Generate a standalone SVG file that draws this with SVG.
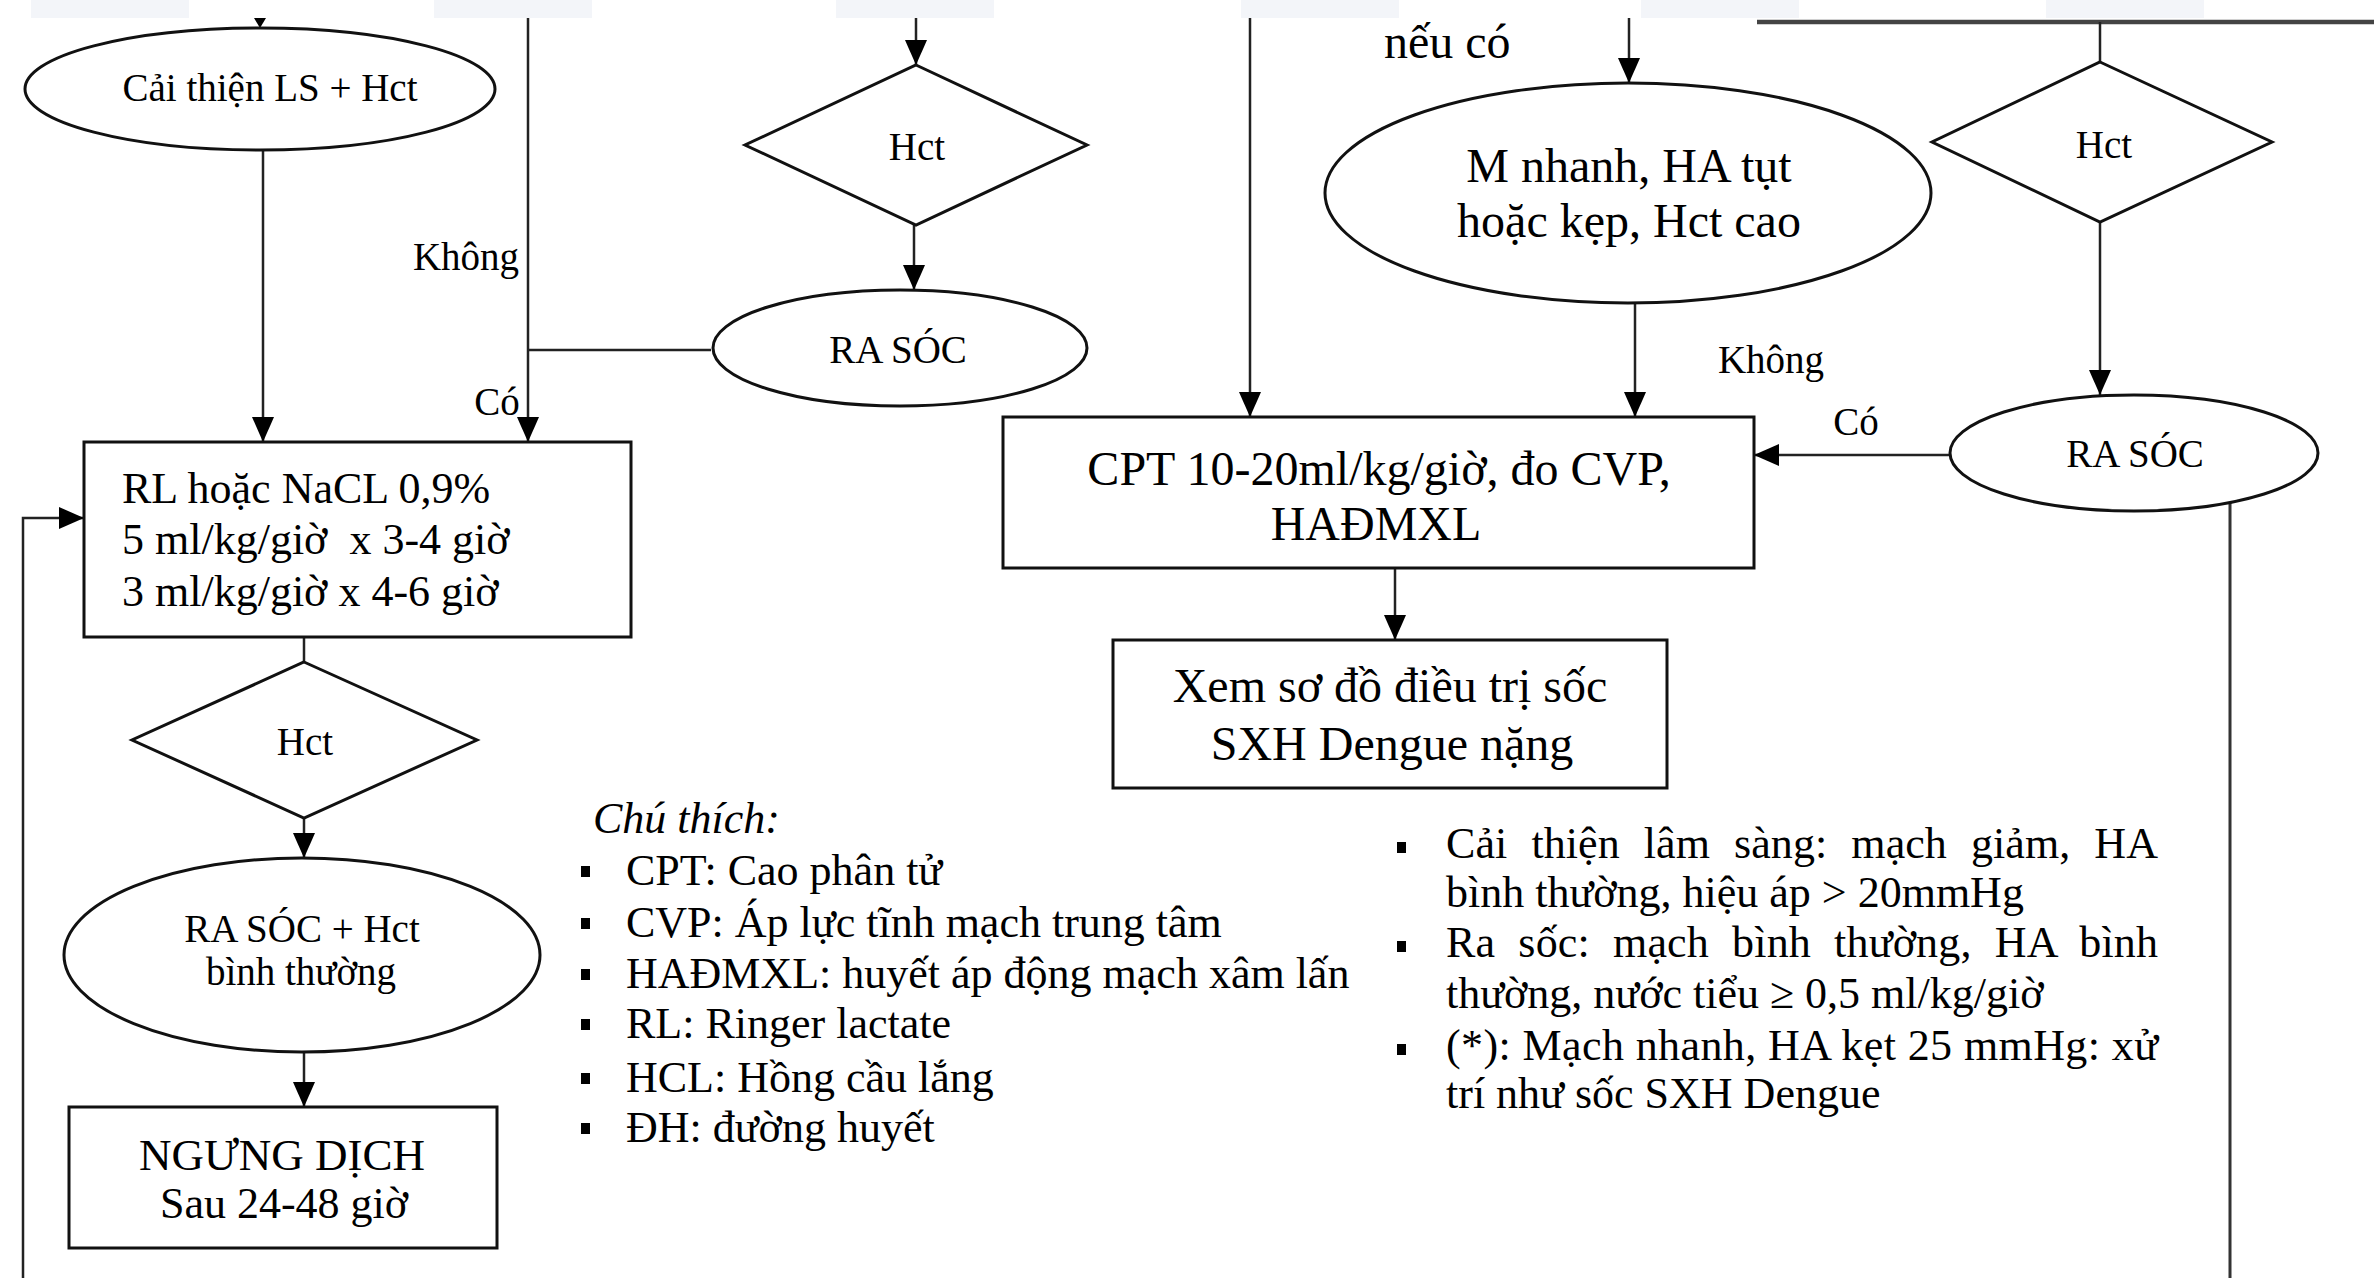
<svg xmlns="http://www.w3.org/2000/svg" width="2374" height="1278" viewBox="0 0 2374 1278">
<defs>
<marker id="ah" viewBox="0 0 25 22" refX="25" refY="11" markerWidth="25" markerHeight="22" markerUnits="userSpaceOnUse" orient="auto">
<path d="M0,0 L25,11 L0,22 Z" fill="#000"/>
</marker>
<style>
text{font-family:"Liberation Serif","Times New Roman",serif;fill:#000}
.shape{fill:#fff;stroke:#111;stroke-width:3}
.c{fill:none;stroke:#222;stroke-width:2.5}
.cl{font-size:39px;text-anchor:middle}
.big{font-size:48px;text-anchor:middle}
.body{font-size:44px}
.bul{fill:#000}
.faint{fill:#f3f5f9}
</style>
</defs>
<rect width="2374" height="1278" fill="#fff"/>
<g id="top-strip">
<rect class="faint" x="31" y="0" width="158" height="18"/>
<rect class="faint" x="434" y="0" width="158" height="18"/>
<rect class="faint" x="836" y="0" width="158" height="18"/>
<rect class="faint" x="1241" y="0" width="158" height="18"/>
<rect class="faint" x="1641" y="0" width="158" height="18"/>
<rect class="faint" x="2046" y="0" width="158" height="18"/>
</g>
<g id="connectors">
<polygon points="254,18 266,18 260,28" fill="#000"/>
<line class="c" x1="263" y1="150" x2="263" y2="442" marker-end="url(#ah)"/>
<line class="c" x1="528" y1="18" x2="528" y2="442" marker-end="url(#ah)"/>
<line class="c" x1="528" y1="350" x2="711" y2="350"/>
<line class="c" x1="916" y1="18" x2="916" y2="65" marker-end="url(#ah)"/>
<line class="c" x1="914" y1="225" x2="914" y2="290" marker-end="url(#ah)"/>
<line class="c" x1="1250" y1="18" x2="1250" y2="417" marker-end="url(#ah)"/>
<line class="c" x1="1629" y1="18" x2="1629" y2="83" marker-end="url(#ah)"/>
<line class="c" x1="1635" y1="302" x2="1635" y2="417" marker-end="url(#ah)"/>
<line class="c" x1="1395" y1="568" x2="1395" y2="640" marker-end="url(#ah)"/>
<line x1="1757" y1="22" x2="2374" y2="22" stroke="#444" stroke-width="4.5"/>
<line class="c" x1="2100" y1="22" x2="2100" y2="62"/>
<line class="c" x1="2100" y1="222" x2="2100" y2="395" marker-end="url(#ah)"/>
<line class="c" x1="1950" y1="455" x2="1754" y2="455" marker-end="url(#ah)"/>
<line x1="2230" y1="503" x2="2230" y2="1278" stroke="#333" stroke-width="3"/>
<line class="c" x1="304" y1="637" x2="304" y2="662"/>
<line class="c" x1="304" y1="818" x2="304" y2="858" marker-end="url(#ah)"/>
<line class="c" x1="304" y1="1052" x2="304" y2="1107" marker-end="url(#ah)"/>
<polyline class="c" points="23,1278 23,518 84,518" stroke="#333" stroke-width="3" marker-end="url(#ah)"/>
</g>
<g id="labels">
<text class="cl" x="466" y="270">Không</text>
<text class="cl" x="497" y="415">Có</text>
<text x="1384" y="58" style="font-size:48px">nếu có</text>
<text class="cl" x="1771" y="373">Không</text>
<text class="cl" x="1856" y="435">Có</text>
</g>
<g id="n-caithien">
<ellipse class="shape" cx="260" cy="89" rx="235" ry="61"/>
<text class="cl" x="270" y="101">Cải thiện LS + Hct</text>
</g>
<g id="n-hct-mid">
<polygon class="shape" points="916,65 1087,145 916,225 745,145"/>
<text class="cl" x="917" y="160">Hct</text>
</g>
<g id="n-rasoc-mid">
<ellipse class="shape" cx="900" cy="348" rx="187" ry="58"/>
<text class="cl" x="898" y="363">RA SÓC</text>
</g>
<g id="n-mnhanh">
<ellipse class="shape" cx="1628" cy="193" rx="303" ry="110"/>
<text class="big" x="1629" y="182">M nhanh, HA tụt</text>
<text class="big" x="1629" y="237">hoặc kẹp, Hct cao</text>
</g>
<g id="n-hct-right">
<polygon class="shape" points="2100,62 2272,142 2100,222 1932,142"/>
<text class="cl" x="2104" y="158">Hct</text>
</g>
<g id="n-rasoc-right">
<ellipse class="shape" cx="2134" cy="453" rx="184" ry="58"/>
<text class="cl" x="2135" y="467">RA SÓC</text>
</g>
<g id="n-cpt">
<rect class="shape" x="1003" y="417" width="751" height="151"/>
<text class="big" x="1379" y="485">CPT 10-20ml/kg/giờ, đo CVP,</text>
<text class="big" x="1376" y="540">HAĐMXL</text>
</g>
<g id="n-xem">
<rect class="shape" x="1113" y="640" width="554" height="148"/>
<text class="big" x="1390" y="702">Xem sơ đồ điều trị sốc</text>
<text class="big" x="1392" y="760">SXH Dengue nặng</text>
</g>
<g id="n-rl">
<rect class="shape" x="84" y="442" width="547" height="195"/>
<text class="body" x="122" y="503">RL hoặc NaCL 0,9%</text>
<text class="body" x="122" y="554" xml:space="preserve">5 ml/kg/giờ  x 3-4 giờ</text>
<text class="body" x="122" y="606">3 ml/kg/giờ x 4-6 giờ</text>
</g>
<g id="n-hct-left">
<polygon class="shape" points="304,662 477,740 304,818 132,740"/>
<text class="cl" x="305" y="755">Hct</text>
</g>
<g id="n-rasoc-hct">
<ellipse class="shape" cx="302" cy="955" rx="238" ry="97"/>
<text class="cl" x="302" y="942">RA SÓC + Hct</text>
<text class="cl" x="301" y="985">bình thường</text>
</g>
<g id="n-ngung">
<rect class="shape" x="69" y="1107" width="428" height="141"/>
<text x="282" y="1170" style="font-size:45px;text-anchor:middle">NGƯNG DỊCH</text>
<text x="284" y="1218" style="font-size:44px;text-anchor:middle">Sau 24-48 giờ</text>
</g>
<g id="legend">
<text x="593" y="833" style="font-size:44px;font-style:italic">Chú thích:</text>
<rect class="bul" x="581" y="866" width="9" height="11"/>
<text class="body" x="626" y="885">CPT: Cao phân tử</text>
<rect class="bul" x="581" y="918" width="9" height="11"/>
<text class="body" x="626" y="937">CVP: Áp lực tĩnh mạch trung tâm</text>
<rect class="bul" x="581" y="969" width="9" height="11"/>
<text class="body" x="626" y="988">HAĐMXL: huyết áp động mạch xâm lấn</text>
<rect class="bul" x="581" y="1019" width="9" height="11"/>
<text class="body" x="626" y="1038">RL: Ringer lactate</text>
<rect class="bul" x="581" y="1073" width="9" height="11"/>
<text class="body" x="626" y="1092">HCL: Hồng cầu lắng</text>
<rect class="bul" x="581" y="1123" width="9" height="11"/>
<text class="body" x="626" y="1142">ĐH: đường huyết</text>
</g>
<g id="notes">
<rect class="bul" x="1397" y="842" width="9" height="11"/>
<text class="body" x="1446" y="858" textLength="712" lengthAdjust="spacing" style="word-spacing:13px">Cải thiện lâm sàng: mạch giảm, HA</text>
<text class="body" x="1446" y="907">bình thường, hiệu áp &gt; 20mmHg</text>
<rect class="bul" x="1397" y="941" width="9" height="11"/>
<text class="body" x="1446" y="957" textLength="712" lengthAdjust="spacing" style="word-spacing:12px">Ra sốc: mạch bình thường, HA bình</text>
<text class="body" x="1446" y="1008">thường, nước tiểu ≥ 0,5 ml/kg/giờ</text>
<rect class="bul" x="1397" y="1044" width="9" height="11"/>
<text class="body" x="1446" y="1060" textLength="712" lengthAdjust="spacing">(*): Mạch nhanh, HA kẹt 25 mmHg: xử</text>
<text class="body" x="1446" y="1108">trí như sốc SXH Dengue</text>
</g>
</svg>
